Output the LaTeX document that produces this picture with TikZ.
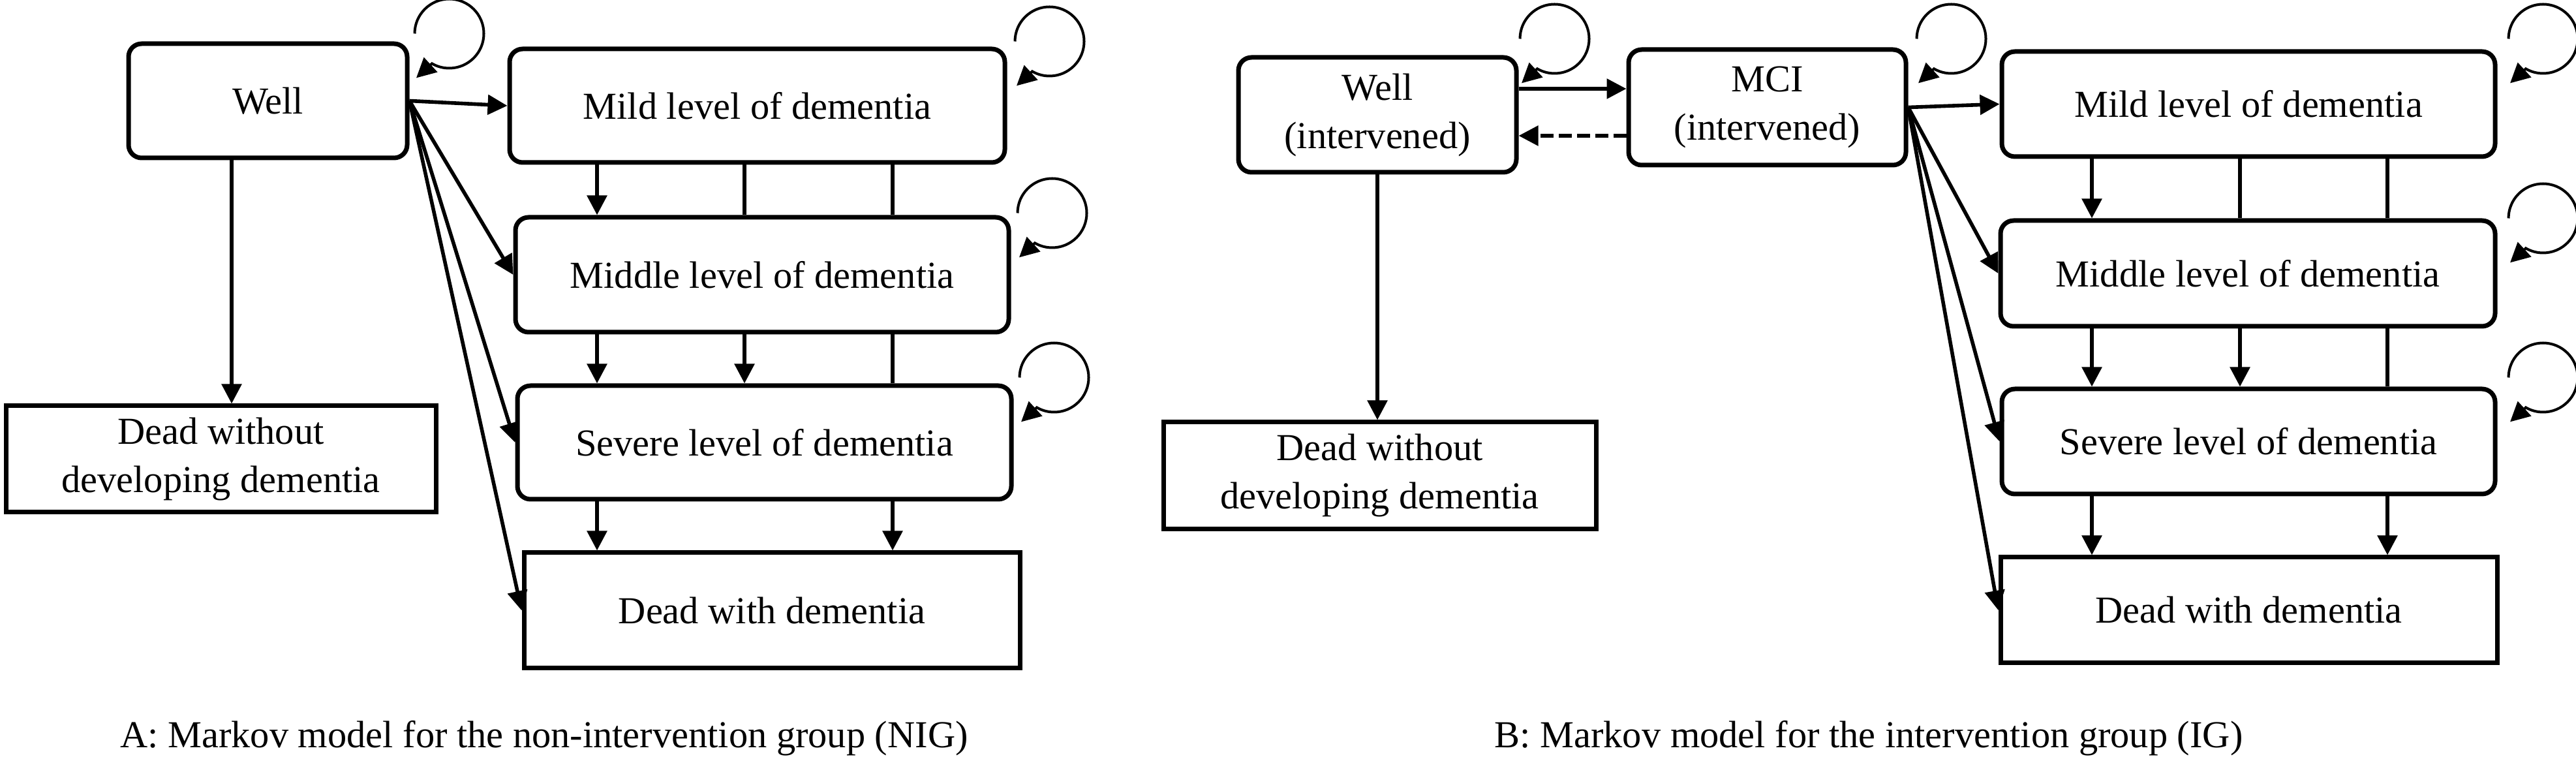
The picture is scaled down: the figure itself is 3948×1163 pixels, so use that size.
\documentclass[tikz,border=0pt]{standalone}
\usepackage{fontspec}
\setmainfont{Liberation Serif}
\usetikzlibrary{arrows.meta,calc}
\newcommand{\mkloop}[3]{%
  \draw[selfloop] ($(#1.north east)+(#2,#3)$) ++(-53,0)
    arc[start angle=180,end angle=480,radius=53] -- ++(-24,22);}
\begin{document}
\begin{tikzpicture}[x=0.25pt,y=-0.25pt,
  every node/.style={font=\fontsize{14.6}{18.5}\selectfont},
  rbox/.style={draw,line width=1.75pt,rounded corners=5pt,inner sep=0pt,align=center},
  sbox/.style={draw,line width=1.75pt,inner sep=0pt,align=center},
  conn/.style={line width=1.4pt,-{Triangle[length=7.5pt,width=7.5pt]}},
  plainline/.style={line width=1.4pt},
  dconn/.style={conn,dash pattern=on 5pt off 2pt},
  selfloop/.style={line width=1pt,-{Triangle[length=7.5pt,width=7.5pt]}},
  captext/.style={anchor=base}]
\useasboundingbox (0,0) rectangle (3948,1163);

% ---------------- Panel A ----------------
\node[rbox,minimum width=106.75pt,minimum height=43.75pt] (wellA) at (410.5,154.5) {Well};
\node[rbox,minimum width=189.75pt,minimum height=43.5pt] (mildA) at (1160.5,162) {Mild level of dementia};
\node[rbox,minimum width=189pt,minimum height=44pt] (midA) at (1168,421) {Middle level of dementia};
\node[rbox,minimum width=189.25pt,minimum height=43.5pt] (sevA) at (1171.5,678) {Severe level of dementia};
\node[sbox,minimum width=190pt,minimum height=44.25pt] (dwA) at (1183,935.5) {Dead with dementia};
\node[sbox,minimum width=164.75pt,minimum height=40.75pt] (dwoA) at (338.5,703.5) {Dead without\\developing dementia};

\coordinate (cA0) at (355,0);
\coordinate (cA1) at (915,0);
\coordinate (cA2) at (1141,0);
\coordinate (cA3) at (1368,0);

\draw[conn] (wellA.east) -- (mildA.west);
\draw[conn] (wellA.east) -- (midA.west);
\draw[conn] (wellA.east) -- (sevA.west);
\draw[conn] (wellA.east) -- (dwA.west);
\draw[conn] (wellA.south -| cA0) -- (dwoA.north -| cA0);

\draw[conn] (mildA.south -| cA1) -- (midA.north -| cA1);
\draw[plainline] (mildA.south -| cA2) -- (midA.north -| cA2);
\draw[plainline] (mildA.south -| cA3) -- (midA.north -| cA3);
\draw[conn] (midA.south -| cA1) -- (sevA.north -| cA1);
\draw[conn] (midA.south -| cA2) -- (sevA.north -| cA2);
\draw[plainline] (midA.south -| cA3) -- (sevA.north -| cA3);
\draw[conn] (sevA.south -| cA1) -- (dwA.north -| cA1);
\draw[conn] (sevA.south -| cA3) -- (dwA.north -| cA3);

\mkloop{wellA}{61}{-12}
\mkloop{mildA}{65}{-8}
\mkloop{midA}{63}{-3}
\mkloop{sevA}{62}{-9}

\node[captext] (capA) at (834,1145) {A: Markov model for the non-intervention group (NIG)};

% ---------------- Panel B ----------------
\node[rbox,minimum width=106.5pt,minimum height=44pt] (wellB) at (2111,176) {Well\\(intervened)};
\node[rbox,minimum width=106.25pt,minimum height=44.25pt] (mciB) at (2708.5,164.5) {MCI\\(intervened)};
\node[rbox,minimum width=189pt,minimum height=40.25pt] (mildB) at (3446,159.5) {Mild level of dementia};
\node[rbox,minimum width=189.5pt,minimum height=40.5pt] (midB) at (3445,419) {Middle level of dementia};
\node[rbox,minimum width=189pt,minimum height=40.25pt] (sevB) at (3446,676.5) {Severe level of dementia};
\node[sbox,minimum width=190.25pt,minimum height=40.5pt] (dwB) at (3446.5,935) {Dead with dementia};
\node[sbox,minimum width=165.75pt,minimum height=41pt] (dwoB) at (2114.5,729) {Dead without\\developing dementia};

\coordinate (hB1) at (0,136);
\coordinate (hB2) at (0,208);
\coordinate (cB1) at (3206,0);
\coordinate (cB2) at (3433,0);
\coordinate (cB3) at (3659,0);

\draw[conn] (wellB.east |- hB1) -- (mciB.west |- hB1);
\draw[dconn] (mciB.west |- hB2) -- (wellB.east |- hB2);
\draw[conn] (wellB.south) -- (dwoB.north -| wellB.south);

\draw[conn] (mciB.east) -- (mildB.west);
\draw[conn] (mciB.east) -- (midB.west);
\draw[conn] (mciB.east) -- (sevB.west);
\draw[conn] (mciB.east) -- (dwB.west);

\draw[conn] (mildB.south -| cB1) -- (midB.north -| cB1);
\draw[plainline] (mildB.south -| cB2) -- (midB.north -| cB2);
\draw[plainline] (mildB.south -| cB3) -- (midB.north -| cB3);
\draw[conn] (midB.south -| cB1) -- (sevB.north -| cB1);
\draw[conn] (midB.south -| cB2) -- (sevB.north -| cB2);
\draw[plainline] (midB.south -| cB3) -- (sevB.north -| cB3);
\draw[conn] (sevB.south -| cB1) -- (dwB.north -| cB1);
\draw[conn] (sevB.south -| cB3) -- (dwB.north -| cB3);

\mkloop{wellB}{55}{-25}
\mkloop{mciB}{66}{-13}
\mkloop{mildB}{70}{-16}
\mkloop{midB}{70}{0}
\mkloop{sevB}{70}{-14}

\node[captext] (capB) at (2864,1145) {B: Markov model for the intervention group (IG)};
\end{tikzpicture}
\end{document}
